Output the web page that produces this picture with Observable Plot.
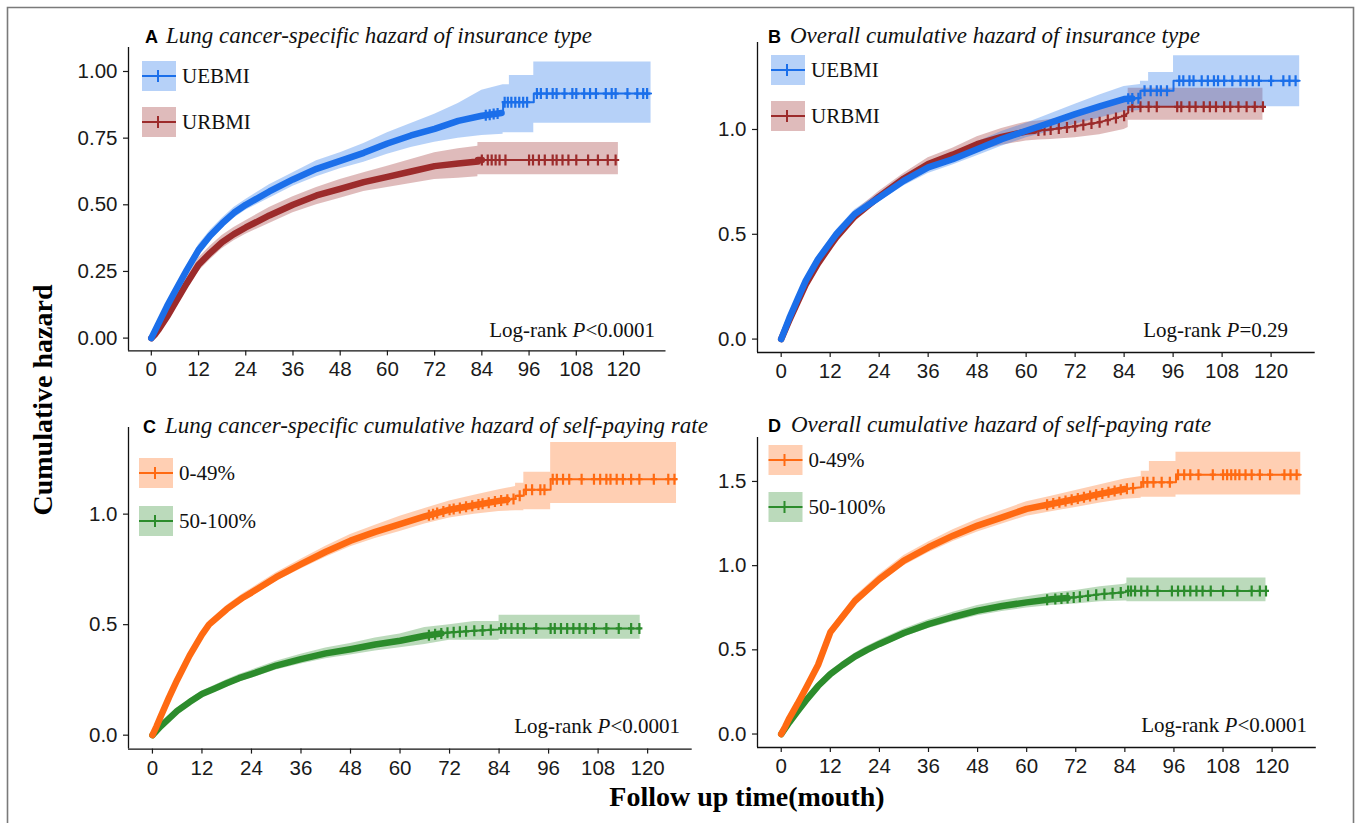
<!DOCTYPE html>
<html><head><meta charset="utf-8">
<script src="https://cdn.jsdelivr.net/npm/d3@7"></script>
<script src="https://cdn.jsdelivr.net/npm/@observablehq/plot@0.6"></script>
<style>
body{margin:0;background:#fff;}
#fig{position:relative;width:1357px;height:823px;overflow:hidden;background:#fff;}
#fig svg.panel{position:absolute;}
#overlay{position:absolute;left:0;top:0;}
</style></head><body><div id="fig"></div>
<script>
// ---------- shared ----------
const xTicks = [0, 12, 24, 36, 48, 60, 72, 84, 96, 108, 120];
const xDomain = [-5.8, 130.8];

// ---------- Panel A: lung cancer-specific, insurance type ----------
const aUE_t  = [0,1,2,4,6,9,12,15,18,21,24,30,36,42,48,54,60,66,72,78,84,89.4,89.4,91,91,97.2,97.2,127];
const aUE_y  = [0,.03,.06,.12,.175,.255,.33,.385,.43,.47,.50,.55,.595,.635,.665,.695,.73,.76,.785,.815,.834,.845,.885,.885,.885,.885,.917,.917];
const aUE_lo = [0,.02,.05,.105,.16,.24,.31,.365,.41,.45,.48,.525,.57,.605,.635,.66,.69,.715,.735,.75,.76,.765,.77,.77,.77,.77,.806,.806];
const aUE_hi = [0,.04,.07,.135,.19,.27,.35,.405,.45,.49,.52,.575,.62,.665,.695,.73,.77,.805,.84,.88,.93,.95,.95,.95,.985,.985,1.036,1.036];
const aUE_c  = [85,86,87,88,89.8,90.6,91.5,92.5,93.5,94.5,95.5,98,99,100.5,102,103,105,107,108,110,111.5,113,115.5,117,118,121,123.5,125,126];

const aUR_t  = [0,1,2,4,6,9,12,15,18,21,24,30,36,42,48,54,60,66,72,78,83,83,118.7];
const aUR_y  = [0,.015,.035,.08,.13,.205,.275,.32,.36,.39,.415,.46,.50,.535,.56,.585,.605,.625,.645,.655,.662,.668,.668];
const aUR_lo = [0,.008,.025,.065,.11,.185,.25,.295,.335,.365,.39,.43,.47,.50,.525,.55,.565,.58,.595,.60,.605,.6125,.6125];
const aUR_hi = [0,.022,.045,.095,.15,.225,.30,.345,.385,.415,.44,.49,.53,.565,.595,.62,.645,.67,.695,.71,.72,.734,.734];
const aUR_c  = [84,85.5,86.5,87.5,88.5,90,96,97,98.5,100,102,103,104.5,106,108,111,113.5,116,118];

// ---------- Panel B: overall, insurance type ----------
const bUE_t  = [0,1,2,4,6,9,12,13.5,18,24,30,36,42,48,54,60,66,72,78,84,88,88,90,90,96.1,96.1,127];
const bUE_y  = [0,.05,.1,.19,.278,.38,.46,.50,.596,.675,.755,.819,.858,.906,.954,.994,1.033,1.073,1.11,1.145,1.15,1.185,1.185,1.185,1.185,1.232,1.232];
const bUE_lo = [0,.04,.09,.175,.26,.36,.44,.48,.575,.655,.73,.79,.83,.875,.92,.96,.99,1.025,1.055,1.085,1.09,1.11,1.11,1.11,1.11,1.108,1.108];
const bUE_hi = [0,.06,.11,.205,.295,.40,.48,.52,.617,.695,.78,.845,.888,.94,.99,1.03,1.075,1.12,1.165,1.205,1.215,1.23,1.23,1.272,1.272,1.352,1.352];
const bUE_c  = [85,86,87.5,89,90.5,92,93,94.5,97.5,98.5,100,101,103,104.5,106,107,108.5,110.5,112.5,114,115.5,117,120,123,124.5,126];

const bUR_t  = [0,1,2,4,6,9,12,13.5,18,24,30,36,42,48,54,60,63,66,72,78,84,85,85,118];
const bUR_y  = [0,.045,.09,.175,.26,.36,.445,.485,.585,.68,.765,.835,.88,.93,.965,.99,.995,1.0,1.015,1.035,1.065,1.08,1.108,1.108];
const bUR_lo = [0,.035,.078,.16,.24,.34,.42,.46,.56,.655,.74,.805,.85,.895,.925,.945,.95,.952,.96,.975,1.0,1.01,1.044,1.044];
const bUR_hi = [0,.055,.102,.19,.28,.38,.47,.51,.61,.705,.79,.865,.91,.965,1.005,1.035,1.04,1.048,1.07,1.095,1.13,1.15,1.197,1.197];
const bUR_c  = [63,64.5,66,68,70,72,74,76,78,80,82,84,86,88,90,92,97,98,100,101.5,103.5,105,106.5,108.5,110,112,114,116,118];

// ---------- Panel C: lung cancer-specific, self-paying rate ----------
const cLo_t  = [0,1,2,4,6,9,12,13.7,18,22,24,30,36,42,48,54,60,66,72,78,84,88,88,90,90,96.5,96.5,127];
const cLo_y  = [0,.04,.085,.17,.25,.36,.455,.50,.57,.623,.645,.715,.774,.83,.88,.92,.955,.99,1.02,1.04,1.06,1.07,1.083,1.083,1.11,1.11,1.158,1.158];
const cLo_lo = [0,.03,.072,.155,.235,.345,.44,.484,.553,.605,.626,.695,.752,.805,.852,.89,.922,.955,.982,1.0,1.012,1.015,1.015,1.015,1.02,1.02,1.048,1.048];
const cLo_hi = [0,.05,.098,.185,.265,.375,.47,.516,.587,.641,.664,.735,.796,.855,.908,.95,.99,1.025,1.06,1.085,1.11,1.125,1.14,1.14,1.19,1.19,1.324,1.324];
const cLo_c  = [67,68,69,70.5,72,73,74.5,76,77.5,79,80,81.5,83,84.5,86,87.5,89,90.5,92,94,95,97,98,99.5,101,104,107,108.5,110,111,112.5,114,116,118,121.5,125,126.5];

const cHi_t  = [0,1,2,4,6,9,12,15,18,21,24,30,36,42,48,54,60,66,72,78,84,84,118.2];
const cHi_y  = [0,.02,.04,.075,.11,.15,.186,.21,.235,.258,.276,.315,.344,.37,.389,.41,.427,.45,.465,.472,.478,.483,.483];
const cHi_lo = [0,.014,.032,.065,.098,.137,.172,.195,.219,.241,.258,.295,.322,.346,.363,.381,.396,.41,.43,.43,.43,.434,.434];
const cHi_hi = [0,.026,.048,.085,.122,.163,.2,.225,.251,.275,.294,.335,.366,.394,.415,.44,.458,.487,.5,.514,.514,.543,.543];
const cHi_c  = [67,68.5,70,71.5,73,74.5,76,78,80,82,84.5,85.5,87,88.5,90,93,96.5,97.5,99,100.5,102,103.5,105,107,110,113,116,118];

// ---------- Panel D: overall, self-paying rate ----------
const dLo_t  = [0,1,2,4,6,9,12,18,24,30,36,42,48,54,60,66,72,78,84,88,88,90,90,96.5,96.5,127];
const dLo_y  = [0,.045,.095,.18,.27,.41,.604,.79,.92,1.03,1.109,1.178,1.238,1.287,1.337,1.366,1.396,1.426,1.455,1.465,1.495,1.495,1.495,1.495,1.54,1.54];
const dLo_lo = [0,.035,.082,.165,.252,.39,.58,.763,.892,1.0,1.077,1.143,1.2,1.247,1.294,1.32,1.346,1.372,1.395,1.4,1.406,1.406,1.406,1.406,1.42,1.42];
const dLo_hi = [0,.055,.108,.195,.288,.43,.628,.817,.948,1.06,1.141,1.213,1.276,1.327,1.38,1.412,1.446,1.48,1.515,1.53,1.56,1.56,1.618,1.618,1.673,1.673];
const dLo_c  = [65,66.5,68,69.5,71,72.5,74,75.5,77,78.5,80,81.5,83,84.5,86,88.5,89.5,91,93,95,97,98.5,100,102,105.5,108,109,110,111,112,113.5,115,117,119.5,123,124.5,126];

const dHi_t  = [0,1,2,4,6,9,12,15,18,21,24,30,36,42,48,54,60,66,72,78,84,84.5,84.5,118.5];
const dHi_y  = [0,.035,.07,.135,.198,.285,.356,.41,.46,.50,.535,.60,.653,.695,.733,.76,.782,.80,.812,.83,.842,.848,.85,.85];
const dHi_lo = [0,.027,.058,.12,.182,.268,.338,.391,.44,.479,.513,.576,.627,.667,.703,.728,.748,.763,.772,.785,.79,.79,.786,.786];
const dHi_hi = [0,.043,.082,.15,.214,.302,.374,.429,.48,.521,.557,.624,.679,.723,.763,.792,.816,.837,.852,.875,.89,.895,.927,.927];
const dHi_c  = [65,67,68.5,70,71.5,73,75,77,79,81,83,84.8,85.5,86.5,88,89.5,92,95.5,97,98.5,100,101.5,103,105,108,111.5,115,117,118.5];

// month up to which censoring ticks are so dense that they merge into a thick stroke
const denseUntil = {aUE: 89, aUR: 84, bUE: 86, bUR: 62, cLo: 86, cHi: 70, dLo: 84, dHi: 70};

// ---------- styling ----------
const UE_COL = "#1b6fea", UR_COL = "#9c2b2b", LO_COL = "#ff6a12", HI_COL = "#2c8c2c";
const BAND_OP = 0.32;
const SANS = '"Liberation Sans", Arial, Helvetica, sans-serif';
const SERIF = '"Liberation Serif", "Times New Roman", Times, serif';

function yAt(ts, ys, c) {
  const i = d3.bisectRight(ts, c) - 1;
  if (i < 0) return ys[0];
  if (i >= ts.length - 1) return ys[ys.length - 1];
  const t0 = ts[i], t1 = ts[i + 1];
  if (t1 === t0) return ys[i + 1];
  return ys[i] + (ys[i + 1] - ys[i]) * (c - t0) / (t1 - t0);
}
function curve(ts, ys, los, his, cs, color, dense) {
  const rows = ts.map((t, i) => ({t, y: ys[i], lo: los[i], hi: his[i]}));
  const denseRows = rows.filter(d => d.t < dense).concat([{t: dense, y: yAt(ts, ys, dense)}]);
  return {rows, denseRows, cens: cs.map(c => ({t: c, y: yAt(ts, ys, c)})), color};
}
const censorSymbol = {
  draw(ctx, size) {
    const r = Math.sqrt(size / Math.PI);
    ctx.moveTo(0, -r); ctx.lineTo(0, r);
    ctx.moveTo(-r * 0.55, 0); ctx.lineTo(r * 0.55, 0);
  }
};

const panels = [
  {x0: 128.1, x1: 665.6, y0: 46.7, y1: 350.1, yDomain: [-0.048, 1.09], yTicks: [0, .25, .5, .75, 1], fmt: ".2f",
   curves: [curve(aUR_t, aUR_y, aUR_lo, aUR_hi, aUR_c, UR_COL, denseUntil.aUR), curve(aUE_t, aUE_y, aUE_lo, aUE_hi, aUE_c, UE_COL, denseUntil.aUE)]},
  {x0: 756.9, x1: 1314.6, y0: 41.7, y1: 351.7, yDomain: [-0.064, 1.415], yTicks: [0, .5, 1], fmt: ".1f",
   curves: [curve(bUR_t, bUR_y, bUR_lo, bUR_hi, bUR_c, UR_COL, denseUntil.bUR), curve(bUE_t, bUE_y, bUE_lo, bUE_hi, bUE_c, UE_COL, denseUntil.bUE)]},
  {x0: 127.9, x1: 691.6, y0: 426.7, y1: 748.3, yDomain: [-0.063, 1.392], yTicks: [0, .5, 1], fmt: ".1f",
   curves: [curve(cHi_t, cHi_y, cHi_lo, cHi_hi, cHi_c, HI_COL, denseUntil.cHi), curve(cLo_t, cLo_y, cLo_lo, cLo_hi, cLo_c, LO_COL, denseUntil.cLo)]},
  {x0: 756.9, x1: 1315.7, y0: 436.7, y1: 746.7, yDomain: [-0.08, 1.761], yTicks: [0, .5, 1, 1.5], fmt: ".1f",
   curves: [curve(dHi_t, dHi_y, dHi_lo, dHi_hi, dHi_c, HI_COL, denseUntil.dHi), curve(dLo_t, dLo_y, dLo_lo, dLo_hi, dLo_c, LO_COL, denseUntil.dLo)]}
];

const fig = document.getElementById("fig");
const ml = 80, mt = 6;
for (const p of panels) {
  const marks = [];
  for (const c of p.curves) marks.push(Plot.areaY(c.rows, {x: "t", y1: "lo", y2: "hi", fill: c.color, fillOpacity: BAND_OP}));
  for (const c of p.curves) {
    marks.push(Plot.line(c.rows, {x: "t", y: "y", stroke: c.color, strokeWidth: 2}));
    marks.push(Plot.line(c.denseRows, {x: "t", y: "y", stroke: c.color, strokeWidth: 6.5, strokeLinecap: "round", strokeLinejoin: "round"}));
    marks.push(Plot.dot(c.cens, {x: "t", y: "y", symbol: censorSymbol, r: 5.5, fill: "none", stroke: c.color, strokeWidth: 2.2}));
  }
  marks.push(Plot.ruleX([xDomain[0]], {stroke: "#111", strokeWidth: 1.3}));
  marks.push(Plot.ruleY([p.yDomain[0]], {stroke: "#111", strokeWidth: 1.3}));
  marks.push(Plot.axisX({ticks: xTicks, tickSize: 5, tickPadding: 6, tickFormat: d => String(d), label: null, fontSize: 20.5, strokeWidth: 1.2}));
  marks.push(Plot.axisY({ticks: p.yTicks, tickSize: 5, tickPadding: 6, tickFormat: d3.format(p.fmt), label: null, fontSize: 20.5, strokeWidth: 1.2}));
  const W = Math.round(p.x1 - p.x0 + ml + 6), H = Math.round(p.y1 - p.y0 + mt + 44);
  const svg = Plot.plot({
    width: W, height: H,
    marginLeft: ml, marginRight: W - ml - (p.x1 - p.x0),
    marginTop: mt, marginBottom: H - mt - (p.y1 - p.y0),
    x: {domain: xDomain},
    y: {domain: p.yDomain},
    style: {fontFamily: SANS, color: "#1a1a1a", background: "transparent", overflow: "visible"},
    marks
  });
  svg.classList.add("panel");
  svg.style.left = (p.x0 - ml) + "px";
  svg.style.top = (p.y0 - mt) + "px";
  fig.appendChild(svg);
}

// ---------- overlay: titles, legends, annotations, axis titles, frame ----------
const NS = "http://www.w3.org/2000/svg";
const ov = document.createElementNS(NS, "svg");
ov.setAttribute("id", "overlay");
ov.setAttribute("width", 1357); ov.setAttribute("height", 823);
fig.appendChild(ov);
function el(tag, attrs, text) {
  const e = document.createElementNS(NS, tag);
  for (const k in attrs) e.setAttribute(k, attrs[k]);
  if (text != null) e.textContent = text;
  ov.appendChild(e);
  return e;
}
el("path", {d: "M7.5,830 V7.5 H1353.5 V830", fill: "none", stroke: "#7a7a7a", "stroke-width": 1.6});

const titles = [
  {lx: 145, tx: 166, y: 43, letter: "A", text: "Lung cancer-specific hazard of insurance type"},
  {lx: 768, tx: 790, y: 43, letter: "B", text: "Overall cumulative hazard of insurance type"},
  {lx: 143, tx: 165, y: 433, letter: "C", text: "Lung cancer-specific cumulative hazard of self-paying rate"},
  {lx: 768, tx: 791, y: 432, letter: "D", text: "Overall cumulative hazard of self-paying rate"}
];
for (const t of titles) {
  el("text", {x: t.lx, y: t.y, "font-family": SANS, "font-weight": "bold", "font-size": 18, fill: "#000"}, t.letter);
  el("text", {x: t.tx, y: t.y, "font-family": SERIF, "font-style": "italic", "font-size": 23, fill: "#111"}, t.text);
}

const legends = [
  {x: 142, y: 61, label: "UEBMI", color: UE_COL}, {x: 142, y: 107, label: "URBMI", color: UR_COL},
  {x: 771, y: 55, label: "UEBMI", color: UE_COL}, {x: 771, y: 101, label: "URBMI", color: UR_COL},
  {x: 139, y: 458, label: "0-49%", color: LO_COL}, {x: 139, y: 506, label: "50-100%", color: HI_COL},
  {x: 768.5, y: 445, label: "0-49%", color: LO_COL}, {x: 768.5, y: 492, label: "50-100%", color: HI_COL}
];
for (const g of legends) {
  const w = 34, h = 30, cy = g.y + h / 2;
  el("rect", {x: g.x, y: g.y, width: w, height: h, fill: g.color, "fill-opacity": BAND_OP});
  el("line", {x1: g.x, x2: g.x + w, y1: cy, y2: cy, stroke: g.color, "stroke-width": 2});
  el("line", {x1: g.x + w / 2 - 1, x2: g.x + w / 2 - 1, y1: cy - 6, y2: cy + 6, stroke: g.color, "stroke-width": 2});
  el("text", {x: g.x + w + 6, y: cy + 7, "font-family": SERIF, "font-size": 21, fill: "#111"}, g.label);
}

const logranks = [
  {x: 655, y: 337, rel: "<", val: "0.0001"},
  {x: 1288, y: 337, rel: "=", val: "0.29"},
  {x: 680, y: 733, rel: "<", val: "0.0001"},
  {x: 1307, y: 732, rel: "<", val: "0.0001"}
];
for (const l of logranks) {
  const t = el("text", {x: l.x, y: l.y, "text-anchor": "end", "font-family": SERIF, "font-size": 21, fill: "#111"});
  const a = document.createElementNS(NS, "tspan"); a.textContent = "Log-rank "; t.appendChild(a);
  const b = document.createElementNS(NS, "tspan"); b.setAttribute("font-style", "italic"); b.textContent = "P"; t.appendChild(b);
  const c = document.createElementNS(NS, "tspan"); c.textContent = l.rel + l.val; t.appendChild(c);
}

el("text", {x: 0, y: 0, transform: "translate(52,400) rotate(-90)", "text-anchor": "middle", "font-family": SERIF, "font-weight": "bold", "font-size": 28, fill: "#000"}, "Cumulative hazard");
el("text", {x: 747, y: 806, "text-anchor": "middle", "font-family": SERIF, "font-weight": "bold", "font-size": 28, fill: "#000"}, "Follow up time(mouth)");
</script></body></html>
